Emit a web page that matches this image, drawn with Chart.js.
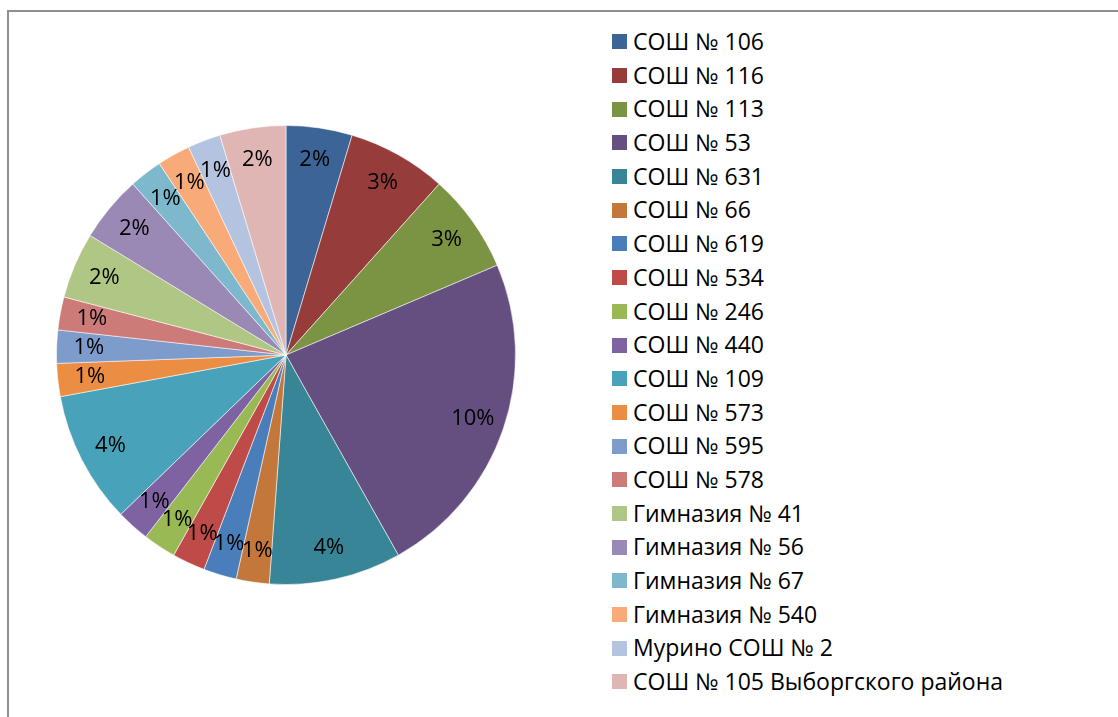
<!DOCTYPE html>
<html>
<head>
<meta charset="utf-8">
<script src="https://cdn.jsdelivr.net/npm/chart.js@4"></script>
<style>
  html, body { margin:0; padding:0; background:#fff; width:1118px; height:717px; overflow:hidden; }
  #frame { position:absolute; left:7px; top:10px; width:1200px; height:800px; border-top:2px solid #8f8f8f; border-left:2px solid #8f8f8f; }
  #pieBox { position:absolute; left:56px; top:125px; width:460px; height:460px; }
  #legend { position:absolute; left:612px; top:25px; font-family: "Open Sans", sans-serif; font-size:23px; color:#000; }
  .row { height:33.7px; line-height:33.7px; white-space:nowrap; display:flex; align-items:center; }
  .sw { width:15px; height:15px; margin-right:6px; flex:none; }
</style>
</head>
<body>
<div id="frame"></div>
<div id="pieBox"><canvas id="c"></canvas></div>
<div id="legend"></div>
<script>
const categories = [
  "СОШ № 106", "СОШ № 116", "СОШ № 113", "СОШ № 53", "СОШ № 631", "СОШ № 66",
  "СОШ № 619", "СОШ № 534", "СОШ № 246", "СОШ № 440", "СОШ № 109", "СОШ № 573",
  "СОШ № 595", "СОШ № 578", "Гимназия № 41", "Гимназия № 56", "Гимназия № 67",
  "Гимназия № 540", "Мурино СОШ № 2", "СОШ № 105 Выборгского района"
];
const values = [2, 3, 3, 10, 4, 1, 1, 1, 1, 1, 4, 1, 1, 1, 2, 2, 1, 1, 1, 2];
const colors = [
  "#3C6496", "#963C3B", "#7A9443", "#644F80", "#388597", "#C3773A",
  "#4A7EBB", "#BE4B48", "#98B954", "#7E62A1", "#48A3BA", "#EB8D43",
  "#7D9BCB", "#CC7B79", "#AFC685", "#9A88B5", "#7DB8CD", "#F8AB78",
  "#B4C3DF", "#E0B6B5"
];

const legend = document.getElementById('legend');
categories.forEach((c, i) => {
  const r = document.createElement('div'); r.className = 'row';
  const s = document.createElement('span'); s.className = 'sw'; s.style.background = colors[i];
  const t = document.createElement('span'); t.textContent = c;
  r.appendChild(s); r.appendChild(t); legend.appendChild(r);
});

const labelPlugin = {
  id: 'sliceLabels',
  afterDatasetsDraw(chart) {
    const ctx = chart.ctx;
    const meta = chart.getDatasetMeta(0);
    ctx.save();
    ctx.font = '22px "Open Sans", sans-serif';
    ctx.fillStyle = '#000';
    ctx.textAlign = 'center';
    ctx.textBaseline = 'middle';
    meta.data.forEach((arc, i) => {
      const p = arc.getProps(['x','y','startAngle','endAngle','outerRadius'], true);
      const mid = (p.startAngle + p.endAngle) / 2;
      const rr = p.outerRadius * 0.86;
      ctx.fillText(values[i] + '%', p.x + Math.cos(mid) * rr, p.y + Math.sin(mid) * rr);
    });
    ctx.restore();
  }
};

new Chart(document.getElementById('c'), {
  type: 'pie',
  data: {
    labels: categories,
    datasets: [{ data: values, backgroundColor: colors, borderColor: 'rgba(255,255,255,0.55)', borderWidth: 1 }]
  },
  options: {
    responsive: true,
    maintainAspectRatio: false,
    animation: false,
    layout: { padding: 0 },
    plugins: { legend: { display: false }, tooltip: { enabled: false } }
  },
  plugins: [labelPlugin]
});
</script>
</body>
</html>
